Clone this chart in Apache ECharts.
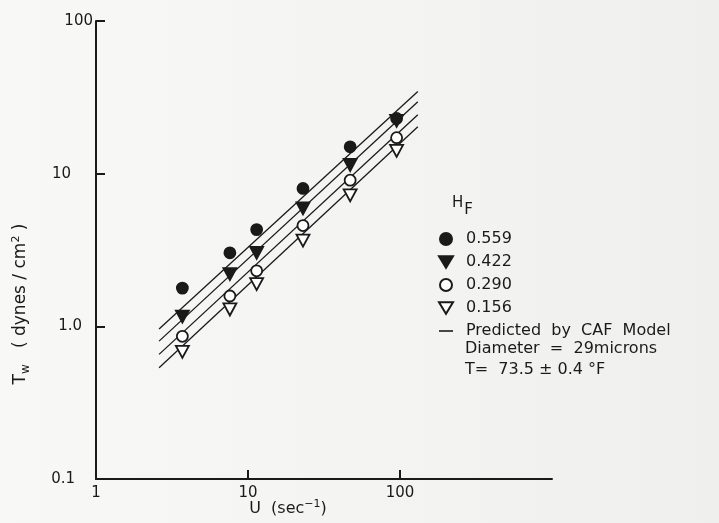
<!DOCTYPE html>
<html>
<head>
<meta charset="utf-8">
<script src="https://cdn.jsdelivr.net/npm/echarts@6/dist/echarts.min.js"></script>
<style>
html,body{margin:0;padding:0;background:#f5f5f3;}
#c{width:719px;height:523px;}
</style>
</head>
<body>
<div id="c"></div>
<script>
// Shear rate U (sec^-1)
const U = [3.7, 7.6, 11.4, 23, 47, 95];
// Wall shear stress Tw (dynes/cm^2) for each H_F
const hf559 = [1.78, 3.03, 4.30, 8.0, 15.0, 23.0];
const hf422 = [1.16, 2.20, 3.03, 5.92, 11.4, 22.2];
const hf290 = [0.86, 1.58, 2.31, 4.57, 9.06, 17.2];
const hf156 = [0.68, 1.29, 1.89, 3.64, 7.21, 14.1];
// Predicted by CAF model (line end points)
const lineU = [2.6, 131];
const pred559 = [0.96, 34.5];
const pred422 = [0.80, 29.6];
const pred290 = [0.655, 24.3];
const pred156 = [0.535, 20.3];
// Tick labels
const xTickValues = [10, 100];
const xLabelValues = [1, 10, 100];
const xTickLabels = {1: '1', 10: '10', 100: '100'};
const yTickLabels = {'0.1': '0.1', '1': '1.0', '10': '10', '100': '100'};
const seriesNames = ['0.559', '0.422', '0.290', '0.156'];
const lineName = 'Predicted  by  CAF  Model';

const font = 'DejaVu Sans';
const ink = '#1a1a1a';
const downTri = 'path://M0,0 L12,0 L6,10 Z';

function pts(xs, ys) { return xs.map((x, i) => [x, ys[i]]); }

const scatterStyle = [
  {symbol: 'circle', size: 11, fill: ink},
  {symbol: downTri, size: [13, 12], fill: ink},
  {symbol: 'circle', size: 11, fill: '#ffffff'},
  {symbol: downTri, size: [13, 12], fill: '#ffffff'}
];
const dataSets = [hf559, hf422, hf290, hf156];
const predSets = [pred559, pred422, pred290, pred156];

const series = [];
predSets.forEach(p => {
  series.push({
    name: lineName, type: 'line', data: pts(lineU, p), symbol: 'none',
    lineStyle: {color: ink, width: 1.3}, itemStyle: {color: ink}, z: 2, silent: true
  });
});
dataSets.forEach((d, i) => {
  const s = scatterStyle[i];
  series.push({
    name: seriesNames[i], type: 'scatter', data: pts(U, d),
    symbol: s.symbol, symbolSize: s.size,
    itemStyle: {color: s.fill, borderColor: ink, borderWidth: 1.8, opacity: 1},
    z: 5
  });
});

const chart = echarts.init(document.getElementById('c'));
chart.setOption({
  backgroundColor: new echarts.graphic.LinearGradient(0, 0, 1, 0, [
    {offset: 0, color: '#f8f8f6'}, {offset: 0.6, color: '#f3f3f2'}, {offset: 1, color: '#efefee'}
  ]),
  animation: false,
  textStyle: {fontFamily: font, color: ink},
  grid: {left: 96, right: 167, top: 21, bottom: 44, containLabel: false},
  xAxis: {
    type: 'log', logBase: 10, min: 1, max: 1000,
    axisLine: {lineStyle: {color: ink, width: 2}},
    axisTick: {inside: true, length: 9, lineStyle: {color: ink, width: 2}, customValues: xTickValues},
    minorTick: {show: false},
    splitLine: {show: false},
    axisLabel: {
      fontFamily: font, fontSize: 15, color: ink, margin: 7,
      customValues: xLabelValues,
      formatter: v => xTickLabels[Math.round(v)] || ''
    }
  },
  yAxis: {
    type: 'log', logBase: 10, min: 0.1, max: 100,
    axisLine: {lineStyle: {color: ink, width: 2}},
    axisTick: {inside: true, length: 9, lineStyle: {color: ink, width: 2}},
    splitLine: {show: false},
    axisLabel: {
      fontFamily: font, fontSize: 15, color: ink, margin: 3,
      formatter: v => {
        const k = Object.keys(yTickLabels).find(t => Math.abs(Math.log10(+t) - Math.log10(v)) < 1e-6);
        if (!k) return '';
        const cls = {'100': 'a', '10': 'b', '1': 'c', '0.1': 'd'}[k];
        return '{' + cls + '|' + yTickLabels[k] + '}';
      },
      rich: {
        a: {fontFamily: font, fontSize: 15, color: ink, padding: [0, 0, 0, 0]},
        b: {fontFamily: font, fontSize: 15, color: ink, padding: [0, 22, 0, 0]},
        c: {fontFamily: font, fontSize: 15, color: ink, padding: [0, 11, 0, 0]},
        d: {fontFamily: font, fontSize: 15, color: ink, padding: [0, 18, 0, 0]}
      }
    }
  },
  legend: {
    data: seriesNames.concat([{name: lineName, icon: 'path://M0,0 L14,0 L14,1.6 L0,1.6 Z'}]),
    orient: 'vertical', left: 433, top: 226, itemGap: 7,
    itemWidth: 14, itemHeight: 12,
    textStyle: {fontFamily: font, fontSize: 16, lineHeight: 16, color: ink, padding: [0, 0, 0, 8]},
    selectedMode: false
  },
  graphic: [
    {type: 'text', left: 452, top: 196, style: {text: '{a|H}{b|F}', rich: {
      a: {fontFamily: font, fontSize: 15, fill: ink},
      b: {fontFamily: font, fontSize: 15, fill: ink, padding: [14, 0, 0, 1]}}}},
    {type: 'text', left: 465, top: 341, style: {text: 'Diameter  =  29microns', font: '16px ' + font, fill: ink}},
    {type: 'text', left: 465, top: 362, style: {text: 'T=  73.5 \u00b1 0.4 \u00b0F', font: '16px ' + font, fill: ink}},
    {type: 'text', x: 288, y: 509, style: {text: '{m|U  (sec}{p|\u22121}{m|)}', align: 'center', verticalAlign: 'middle', rich: {
      m: {fontFamily: font, fontSize: 16, fill: ink},
      p: {fontFamily: font, fontSize: 11, fill: ink, padding: [0, 0, 9, 0]}}}},
    {type: 'text', x: 21, y: 304, rotation: Math.PI / 2, style: {
      text: '{m|T}{s|w}{m|   ( dynes / cm}{p|2}{m| )}', align: 'center', verticalAlign: 'middle', rich: {
      m: {fontFamily: font, fontSize: 17, fill: ink},
      s: {fontFamily: font, fontSize: 12, fill: ink, padding: [10, 0, 0, 0]},
      p: {fontFamily: font, fontSize: 11, fill: ink, padding: [0, 0, 9, 0]}}}}
  ],
  series: series
});
</script>
</body>
</html>
